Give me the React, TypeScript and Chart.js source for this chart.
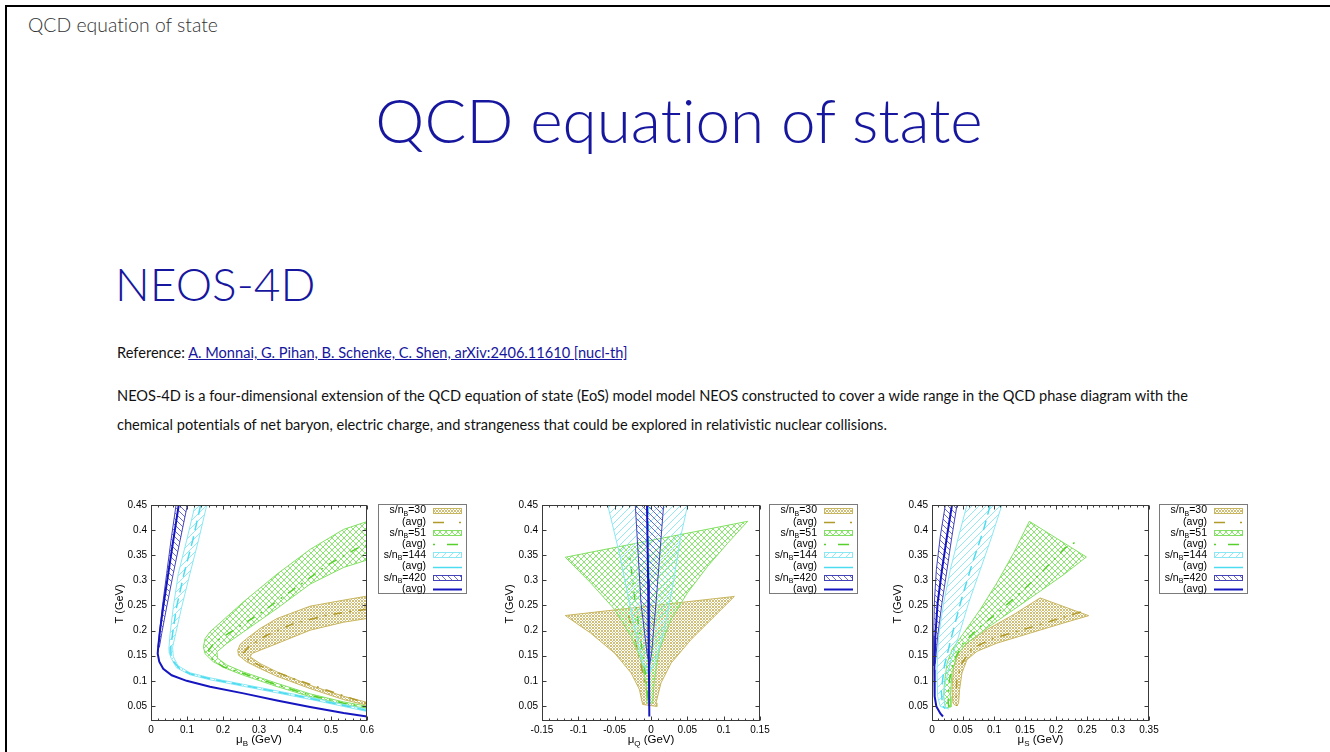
import React, { useEffect, useRef } from 'react';
import { Chart, registerables } from 'chart.js';

Chart.register(...registerables);

type P = [number, number];

// ---------- shared axis data ----------
const T_TICKS = [0.05, 0.1, 0.15, 0.2, 0.25, 0.3, 0.35, 0.4, 0.45];
const T_MIN = 0.02;
const T_MAX = 0.45;
const SERIES_SN = ['30', '51', '144', '420'];

// ---------- chart 1 : mu_B ----------
const muB_ticks = [0, 0.1, 0.2, 0.3, 0.4, 0.5, 0.6];
const muB_s30_band: P[] = [[0.6,0.2686],[0.535,0.2606],[0.442,0.2486],[0.35,0.224],[0.303,0.2041],[0.266,0.184],[0.248,0.1729],[0.241,0.1609],[0.243,0.151],[0.266,0.1377],[0.303,0.1244],[0.35,0.109],[0.442,0.0845],[0.535,0.0626],[0.6,0.0513],[0.6,0.0572],[0.535,0.0692],[0.442,0.0911],[0.35,0.1177],[0.303,0.1343],[0.2755,0.1476],[0.28,0.1543],[0.303,0.1609],[0.35,0.1742],[0.442,0.2008],[0.535,0.2167],[0.6,0.224]];
const muB_s30_avg: P[] = [[0.6,0.243],[0.581,0.2407],[0.489,0.2307],[0.396,0.214],[0.322,0.1908],[0.2755,0.1709],[0.257,0.1556],[0.266,0.1443],[0.303,0.1297],[0.396,0.1044],[0.489,0.0812],[0.6,0.0546]];
const muB_s51_band: P[] = [[0.6,0.417],[0.535,0.4015],[0.442,0.3616],[0.35,0.3124],[0.257,0.2573],[0.192,0.2154],[0.164,0.1975],[0.15,0.184],[0.1456,0.1676],[0.15,0.154],[0.173,0.138],[0.2105,0.124],[0.257,0.111],[0.35,0.0885],[0.442,0.0685],[0.535,0.053],[0.6,0.045],[0.6,0.0495],[0.535,0.058],[0.442,0.074],[0.35,0.095],[0.257,0.1175],[0.2105,0.1315],[0.185,0.145],[0.183,0.1576],[0.2105,0.1742],[0.257,0.1975],[0.35,0.244],[0.442,0.2925],[0.535,0.3257],[0.6,0.3404]];
const muB_s51_avg: P[] = [[0.6,0.37],[0.572,0.3636],[0.489,0.33],[0.396,0.282],[0.303,0.234],[0.229,0.2008],[0.178,0.1775],[0.16,0.161],[0.169,0.144],[0.2,0.128],[0.257,0.1144],[0.35,0.0918],[0.442,0.0712],[0.535,0.0555],[0.6,0.0472]];
const muB_s144_band: P[] = [[0.1224,0.45],[0.0992,0.38],[0.076,0.314],[0.062,0.247],[0.053,0.194],[0.05,0.167],[0.051,0.155],[0.056,0.145],[0.071,0.126],[0.1085,0.112],[0.164,0.102],[0.257,0.089],[0.35,0.076],[0.442,0.063],[0.535,0.049],[0.6,0.039],[0.6,0.043],[0.535,0.053],[0.442,0.067],[0.35,0.08],[0.257,0.093],[0.164,0.106],[0.1085,0.116],[0.075,0.13],[0.062,0.148],[0.06,0.167],[0.0686,0.194],[0.0853,0.247],[0.1085,0.314],[0.132,0.38],[0.155,0.45]];
const muB_s144_avg: P[] = [[0.138,0.45],[0.116,0.38],[0.092,0.314],[0.071,0.247],[0.06,0.194],[0.055,0.167],[0.0555,0.152],[0.064,0.137],[0.08,0.124],[0.1085,0.114],[0.164,0.104],[0.257,0.091],[0.35,0.078],[0.442,0.065],[0.535,0.051],[0.6,0.041]];
const muB_s420_band: P[] = [[0.101,0.45],[0.081,0.38],[0.062,0.314],[0.0436,0.247],[0.0297,0.194],[0.0232,0.167],[0.0195,0.167],[0.0232,0.194],[0.0315,0.247],[0.0436,0.314],[0.0556,0.38],[0.0696,0.45]];
const muB_s420_avg: P[] = [[0.077,0.45],[0.062,0.38],[0.048,0.314],[0.034,0.247],[0.025,0.2],[0.02,0.167],[0.0186,0.154],[0.023,0.138],[0.034,0.124],[0.0575,0.111],[0.099,0.1],[0.164,0.088],[0.257,0.075],[0.35,0.061],[0.442,0.048],[0.535,0.036],[0.6,0.029]];

// ---------- chart 2 : mu_Q ----------
const muQ_ticks = [-0.15, -0.1, -0.05, 0, 0.05, 0.1, 0.15];
const muQ_s30_band: P[] = [[-0.118,0.23],[0.1147,0.268],[0.087,0.228],[0.055,0.182],[0.0275,0.135],[0.0138,0.096],[0.0069,0.056],[0.008,0.049],[-0.0115,0.053],[-0.016,0.083],[-0.0275,0.116],[-0.05,0.155],[-0.083,0.195],[-0.118,0.23]];
const muQ_s30_avg: P[] = [[-0.031,0.23],[-0.025,0.2],[-0.015,0.14],[-0.006,0.08],[-0.003,0.05]];
const muQ_s51_band: P[] = [[-0.118,0.346],[0.133,0.4175],[0.1055,0.374],[0.078,0.328],[0.05,0.275],[0.0275,0.222],[0.0115,0.162],[0.0046,0.102],[0.0023,0.056],[-0.0055,0.056],[-0.0069,0.096],[-0.0138,0.142],[-0.0275,0.189],[-0.05,0.242],[-0.083,0.295],[-0.118,0.346]];
const muQ_s51_avg: P[] = [[-0.029,0.345],[-0.026,0.31],[-0.022,0.26],[-0.016,0.2],[-0.01,0.14],[-0.005,0.08],[-0.003,0.05]];
const muQ_s144_band: P[] = [[-0.0596,0.45],[-0.0436,0.354],[-0.0298,0.255],[-0.018,0.175],[-0.0115,0.135],[-0.003,0.112],[0.0069,0.142],[0.0183,0.202],[0.0298,0.288],[0.041,0.388],[0.0505,0.45]];
const muQ_s144_avg: P[] = [[-0.004,0.45],[-0.003,0.3],[-0.002,0.12]];
const muQ_s420_band: P[] = [[-0.0216,0.45],[-0.0138,0.255],[-0.0055,0.155],[-0.002,0.13],[0.0009,0.155],[0.0069,0.255],[0.0174,0.45]];
const muQ_s420_avg: P[] = [[-0.0055,0.45],[-0.004,0.3],[-0.003,0.15],[-0.0023,0.029]];

// ---------- chart 3 : mu_S ----------
const muS_ticks = [0, 0.05, 0.1, 0.15, 0.2, 0.25, 0.3, 0.35];
const muS_s30_band: P[] = [[0.1744,0.265],[0.2527,0.2297],[0.2119,0.215],[0.1583,0.195],[0.1047,0.175],[0.0725,0.1587],[0.0564,0.142],[0.0483,0.1156],[0.0445,0.0825],[0.0429,0.056],[0.0403,0.0505],[0.036,0.0525],[0.0338,0.056],[0.0322,0.0825],[0.0349,0.129],[0.043,0.1555],[0.0564,0.1754],[0.0886,0.2019],[0.1315,0.2317],[0.1744,0.265]];
const muS_s30_avg: P[] = [[0.24,0.237],[0.2,0.222],[0.15,0.203],[0.1,0.185],[0.065,0.165],[0.048,0.135],[0.04,0.1],[0.039,0.07],[0.04,0.05]];
const muS_s51_band: P[] = [[0.157,0.4175],[0.249,0.3465],[0.212,0.311],[0.1744,0.2784],[0.1315,0.2416],[0.0886,0.205],[0.0564,0.175],[0.0403,0.152],[0.0322,0.1156],[0.0295,0.069],[0.0306,0.048],[0.0215,0.046],[0.0188,0.069],[0.02,0.096],[0.0242,0.135],[0.0322,0.162],[0.051,0.195],[0.0778,0.242],[0.1047,0.295],[0.1315,0.354],[0.157,0.4175]];
const muS_s51_avg: P[] = [[0.23,0.375],[0.215,0.365],[0.18,0.32],[0.147,0.28],[0.11,0.24],[0.075,0.205],[0.05,0.175],[0.035,0.14],[0.028,0.1],[0.026,0.06],[0.027,0.048]];
const muS_s144_band: P[] = [[0.0564,0.45],[0.043,0.388],[0.0295,0.321],[0.0188,0.255],[0.0107,0.189],[0.008,0.122],[0.0091,0.069],[0.0134,0.049],[0.0242,0.045],[0.0268,0.044],[0.0215,0.049],[0.0188,0.069],[0.0215,0.096],[0.0295,0.135],[0.043,0.189],[0.059,0.255],[0.0778,0.321],[0.0966,0.388],[0.1127,0.45]];
const muS_s144_avg: P[] = [[0.094,0.45],[0.083,0.4],[0.064,0.33],[0.047,0.26],[0.032,0.19],[0.02,0.13],[0.015,0.08],[0.017,0.05],[0.021,0.045]];
const muS_s420_band: P[] = [[0.0215,0.45],[0.0134,0.388],[0.007,0.321],[0.0038,0.255],[0.0027,0.189],[0.003,0.13],[0.0054,0.135],[0.0091,0.189],[0.0161,0.255],[0.0242,0.321],[0.0322,0.388],[0.0403,0.45]];
const muS_s420_avg: P[] = [[0.0322,0.45],[0.0242,0.388],[0.0161,0.321],[0.0091,0.255],[0.0054,0.189],[0.0038,0.122],[0.0043,0.069],[0.007,0.049],[0.0134,0.035],[0.0177,0.029]];

// ---------- styles ----------
const HATCH_COLOR = ['#cfbf78', '#8de574', '#92eaf5', '#6a6ad0'];
const EDGE_COLOR = ['#c8b660', '#84e064', '#8ae8f4', '#4444b8'];
const AVG_COLOR = ['#b09a2a', '#58d02c', '#4cdcf0', '#1616c0'];
const AVG_WIDTH = [1.5, 1.5, 1.5, 2];
const AVG_DASH: number[][] = [[9, 7, 2, 7], [2, 7, 9, 7], [10, 6], []];
const LEGEND_DASH: number[][] = [[11, 15, 2, 20], [2, 12, 11, 20], [], []];
const HATCH_SPEC = [
  { s: 3, dirs: ['/', '\\'] },
  { s: 6, dirs: ['/', '\\'] },
  { s: 7, dirs: ['/'] },
  { s: 6, dirs: ['\\'] },
];
const FONT = '"Liberation Sans", Arial, sans-serif';

function makeHatch(color: string, s: number, dirs: string[]): CanvasPattern {
  const c = document.createElement('canvas');
  c.width = s;
  c.height = s;
  const g = c.getContext('2d') as CanvasRenderingContext2D;
  g.strokeStyle = color;
  g.lineWidth = 1;
  g.beginPath();
  for (const d of dirs) {
    for (let k = -1; k <= 1; k++) {
      if (d === '/') {
        g.moveTo(k * s, s);
        g.lineTo(k * s + s, 0);
      } else {
        g.moveTo(k * s, 0);
        g.lineTo(k * s + s, s);
      }
    }
  }
  g.stroke();
  return g.createPattern(c, 'repeat') as CanvasPattern;
}

function fmt(v: number | string) {
  const n = +(+v).toFixed(3);
  return String(n);
}

function subText(ctx: CanvasRenderingContext2D, x: number, y: number, a: string, sub: string, b: string, size: number, align: 'right' | 'center') {
  ctx.font = `${size}px ${FONT}`;
  const w1 = ctx.measureText(a).width;
  const w3 = ctx.measureText(b).width;
  ctx.font = `${Math.round(size * 0.7)}px ${FONT}`;
  const w2 = ctx.measureText(sub).width;
  const total = w1 + w2 + w3;
  const x0 = align === 'right' ? x - total : x - total / 2;
  ctx.textAlign = 'left';
  ctx.font = `${size}px ${FONT}`;
  ctx.fillText(a, x0, y);
  ctx.font = `${Math.round(size * 0.7)}px ${FONT}`;
  ctx.fillText(sub, x0 + w1, y + size * 0.3);
  ctx.font = `${size}px ${FONT}`;
  ctx.fillText(b, x0 + w1 + w2, y);
}

type GpProps = {
  left: number;
  top: number;
  width: number;
  height: number;
  yW: number;
  padR: number;
  xMin: number;
  xMax: number;
  xTicks: number[];
  xMinor: number;
  sub: string;
  bands: P[][];
  avgs: P[][];
  legendX: number;
  yTitleX: number;
};

function GpChart(props: GpProps) {
  const ref = useRef<HTMLCanvasElement>(null);
  useEffect(() => {
    const { yW, padR, xMin, xMax, xTicks, xMinor, sub, bands, avgs, legendX, yTitleX } = props;
    const pats = HATCH_SPEC.map((h, i) => makeHatch(HATCH_COLOR[i], h.s, h.dirs));
    const datasets: any[] = [];
    for (let i = 3; i >= 0; i--) {
      datasets.push({
        data: avgs[i].map(([x, y]) => ({ x, y })),
        borderColor: AVG_COLOR[i],
        borderWidth: AVG_WIDTH[i],
        borderDash: AVG_DASH[i],
        fill: false,
        pointRadius: 0,
      });
      datasets.push({
        data: bands[i].map(([x, y]) => ({ x, y })),
        borderColor: EDGE_COLOR[i],
        borderWidth: 1,
        backgroundColor: pats[i],
        fill: 'shape',
        pointRadius: 0,
      });
    }
    const plugin = {
      id: 'gnuplotDeco',
      afterDraw(chart: any) {
        const ctx: CanvasRenderingContext2D = chart.ctx;
        const a = chart.chartArea;
        const xs = chart.scales.x;
        const ys = chart.scales.y;
        ctx.save();
        ctx.strokeStyle = '#3a3a3a';
        ctx.lineWidth = 1;
        const L = Math.round(a.left) + 0.5;
        const R = Math.round(a.right) - 0.5;
        const Tp = Math.round(a.top) + 0.5;
        const B = Math.round(a.bottom) - 0.5;
        ctx.strokeRect(L, Tp, R - L, B - Tp);
        ctx.beginPath();
        const nMinor = Math.round((xMax - xMin) / xMinor);
        for (let k = 0; k <= nMinor; k++) {
          const v = xMin + k * xMinor;
          const major = xTicks.some((t) => Math.abs(t - v) < 1e-9);
          const len = major ? 4 : 2;
          const px = Math.round(xs.getPixelForValue(v)) + 0.5;
          ctx.moveTo(px, B);
          ctx.lineTo(px, B - len);
          ctx.moveTo(px, Tp);
          ctx.lineTo(px, Tp + len);
        }
        for (const v of T_TICKS) {
          const py = Math.round(ys.getPixelForValue(v)) + 0.5;
          ctx.moveTo(L, py);
          ctx.lineTo(L + 4, py);
          ctx.moveTo(R, py);
          ctx.lineTo(R - 4, py);
        }
        ctx.stroke();

        // axis titles
        ctx.fillStyle = '#000';
        ctx.textBaseline = 'alphabetic';
        subText(ctx, (a.left + a.right) / 2, 253, '\u03bc', sub, ' (GeV)', 11.5, 'center');
        ctx.save();
        ctx.translate(yTitleX, (a.top + a.bottom) / 2 - 9);
        ctx.rotate(-Math.PI / 2);
        ctx.textAlign = 'center';
        ctx.textBaseline = 'middle';
        ctx.font = `11px ${FONT}`;
        ctx.fillText('T (GeV)', 0, 0);
        ctx.restore();

        // legend
        const lx = legendX;
        const ly = 14;
        ctx.strokeStyle = '#7a7a7a';
        ctx.lineWidth = 1;
        ctx.strokeRect(lx + 0.5, ly + 0.5, 88, 89);
        for (let r = 0; r < 8; r++) {
          const i = Math.floor(r / 2);
          const isBand = r % 2 === 0;
          const cy = ly + 6.5 + r * 11.2;
          const tx = lx + 48;
          ctx.fillStyle = '#000';
          ctx.textBaseline = 'middle';
          if (isBand) {
            subText(ctx, tx, cy, 's/n', 'B', '=' + SERIES_SN[i], 10.5, 'right');
          } else {
            ctx.textAlign = 'right';
            ctx.font = `10.5px ${FONT}`;
            ctx.fillText('(avg)', tx, cy);
          }
          const sx = lx + 55;
          const ex = lx + 84;
          if (isBand) {
            ctx.fillStyle = pats[i];
            ctx.fillRect(sx, Math.round(cy) - 3, ex - sx, 6);
            ctx.strokeStyle = EDGE_COLOR[i];
            ctx.lineWidth = 1;
            ctx.strokeRect(sx + 0.5, Math.round(cy) - 3 + 0.5, ex - sx - 1, 5);
          } else {
            ctx.strokeStyle = AVG_COLOR[i];
            ctx.lineWidth = AVG_WIDTH[i];
            ctx.setLineDash(LEGEND_DASH[i]);
            ctx.beginPath();
            ctx.moveTo(sx, Math.round(cy) + 0.5);
            ctx.lineTo(ex, Math.round(cy) + 0.5);
            ctx.stroke();
            ctx.setLineDash([]);
          }
        }
        ctx.restore();
      },
    };
    const chart = new Chart(ref.current as HTMLCanvasElement, {
      type: 'line',
      data: { datasets },
      options: {
        responsive: false,
        animation: false,
        events: [],
        layout: { padding: { left: 0, top: 15, right: padR, bottom: 0 } },
        plugins: { legend: { display: false }, tooltip: { enabled: false } },
        elements: { line: { tension: 0 }, point: { radius: 0 } },
        scales: {
          x: {
            type: 'linear',
            min: xMin,
            max: xMax,
            grid: { display: false, drawTicks: false },
            border: { display: false },
            ticks: { padding: 3, color: '#000', font: { family: FONT, size: 10 }, callback: fmt, autoSkip: false, maxRotation: 0 },
            afterBuildTicks: (s: any) => {
              s.ticks = xTicks.map((v) => ({ value: v }));
            },
            afterFit: (s: any) => {
              s.height = 31;
            },
          },
          y: {
            type: 'linear',
            min: T_MIN,
            max: T_MAX,
            grid: { display: false, drawTicks: false },
            border: { display: false },
            ticks: { padding: 4, color: '#000', font: { family: FONT, size: 10 }, callback: fmt, autoSkip: false },
            afterBuildTicks: (s: any) => {
              s.ticks = T_TICKS.map((v) => ({ value: v }));
            },
            afterFit: (s: any) => {
              s.width = yW;
            },
          },
        },
      } as any,
      plugins: [plugin],
    });
    return () => chart.destroy();
  }, []);
  return (
    <canvas
      ref={ref}
      width={props.width}
      height={props.height}
      style={{ position: 'absolute', left: props.left, top: props.top, width: props.width, height: props.height }}
    />
  );
}

const BLUE = '#16169e';
const NOLIG: any = { fontVariantLigatures: 'none', fontFeatureSettings: '"liga" 0, "clig" 0' };

export default function App() {
  return (
    <div style={{ position: 'absolute', left: 0, top: 0, width: 1330, height: 752, overflow: 'hidden', background: '#fff' }}>
      <div style={{ position: 'absolute', left: 5, top: 5, width: 1400, height: 800, borderTop: '2px solid #000', borderLeft: '2px solid #000' }} />
      <div style={{ ...NOLIG, position: 'absolute', left: 28, top: 14.8, fontFamily: 'Lato', fontWeight: 300, fontSize: 19.4, lineHeight: '19.4px', color: '#333', whiteSpace: 'nowrap' }}>
        QCD equation of state
      </div>
      <div style={{ ...NOLIG, position: 'absolute', left: 0, width: 1358, top: 88, textAlign: 'center', fontFamily: 'Lato', fontWeight: 300, fontSize: 62, lineHeight: '62px', color: BLUE, whiteSpace: 'nowrap' }}>
        QCD equation of state
      </div>
      <div style={{ ...NOLIG, position: 'absolute', left: 115, top: 261, fontFamily: 'Lato', fontWeight: 300, fontSize: 46, lineHeight: '46px', color: BLUE, whiteSpace: 'nowrap' }}>
        NEOS-4D
      </div>
      <div style={{ ...NOLIG, position: 'absolute', left: 117, top: 346, fontFamily: 'Lato', fontSize: 14.6, lineHeight: '14.6px', color: '#111', whiteSpace: 'nowrap' }}>
        Reference:{' '}
        <a href="#" style={{ color: BLUE, textDecoration: 'underline' }}>
          A. Monnai, G. Pihan, B. Schenke, C. Shen, arXiv:2406.11610 [nucl-th]
        </a>
      </div>
      <div style={{ ...NOLIG, position: 'absolute', left: 117, top: 380.5, fontFamily: 'Lato', fontSize: 14.6, lineHeight: '29.5px', color: '#111', whiteSpace: 'nowrap' }}>
        NEOS-4D is a four-dimensional extension of the QCD equation of state (EoS) model model NEOS constructed to cover a wide range in the QCD phase diagram with the
        <br />
        chemical potentials of net baryon, electric charge, and strangeness that could be explored in relativistic nuclear collisions.
      </div>
      <GpChart
        left={110}
        top={490}
        width={370}
        height={262}
        yW={41}
        padR={113}
        xMin={0}
        xMax={0.6}
        xTicks={muB_ticks}
        xMinor={0.02}
        sub="B"
        bands={[muB_s30_band, muB_s51_band, muB_s144_band, muB_s420_band]}
        avgs={[muB_s30_avg, muB_s51_avg, muB_s144_avg, muB_s420_avg]}
        legendX={268}
        yTitleX={10}
      />
      <GpChart
        left={500}
        top={490}
        width={370}
        height={262}
        yW={42}
        padR={110}
        xMin={-0.15}
        xMax={0.15}
        xTicks={muQ_ticks}
        xMinor={0.01}
        sub="Q"
        bands={[muQ_s30_band, muQ_s51_band, muQ_s144_band, muQ_s420_band]}
        avgs={[muQ_s30_avg, muQ_s51_avg, muQ_s144_avg, muQ_s420_avg]}
        legendX={269}
        yTitleX={10}
      />
      <GpChart
        left={890}
        top={490}
        width={370}
        height={262}
        yW={42}
        padR={111}
        xMin={0}
        xMax={0.35}
        xTicks={muS_ticks}
        xMinor={0.01}
        sub="S"
        bands={[muS_s30_band, muS_s51_band, muS_s144_band, muS_s420_band]}
        avgs={[muS_s30_avg, muS_s51_avg, muS_s144_avg, muS_s420_avg]}
        legendX={269}
        yTitleX={8}
      />
    </div>
  );
}
